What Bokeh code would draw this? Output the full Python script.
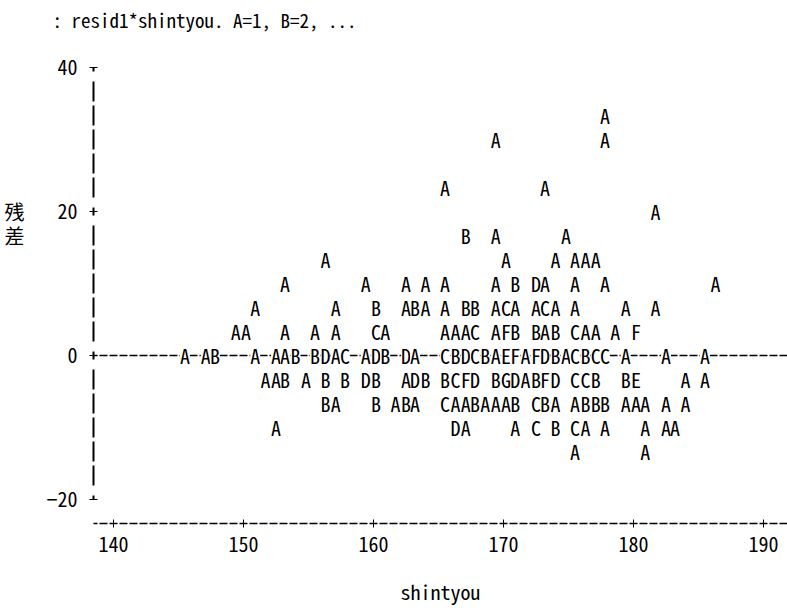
from bokeh.plotting import figure
from bokeh.models import ColumnDataSource, FixedTicker, Span, LinearAxis
from bokeh.core.properties import value
from bokeh.embed import file_html
from bokeh.resources import INLINE

# ---- data: printer-plot of resid1 * shintyou (A=1, B=2, ...) ----
x_ticks = [140, 150, 160, 170, 180, 190]
y_ticks = [-20, 0, 20, 40]

r_p10_y = 33.3
r_p10_x = [177.8]
r_p10_n = ["A"]

r_p9_y = 30.0
r_p9_x = [169.4, 177.8]
r_p9_n = ["A", "A"]

r_p7_y = 23.3
r_p7_x = [165.5, 173.2]
r_p7_n = ["A", "A"]

r_p6_y = 20.0
r_p6_x = [181.7]
r_p6_n = ["A"]

r_p5_y = 16.7
r_p5_x = [167.1, 169.4, 174.8]
r_p5_n = ["B", "A", "A"]

r_p4_y = 13.3
r_p4_x = [156.3, 170.2, 174.0, 175.5, 176.3, 177.1]
r_p4_n = list("AAAAAA")

r_p3_y = 10.0
r_p3_x = [153.2, 159.4, 162.5, 164.0, 165.5, 169.4, 170.9, 172.5, 173.2,
          175.5, 177.8, 186.3]
r_p3_n = list("AAAAAABDAAAA")

r_p2_y = 6.7
r_p2_x = [150.9, 157.1, 160.2, 162.5, 163.2, 164.0, 165.5, 167.1, 167.8,
          169.4, 170.2, 170.9, 172.5, 173.2, 174.0, 175.5, 179.4, 181.7]
r_p2_n = list("AABABAABBACAACAAAA")

r_p1_y = 3.3
r_p1_x = [149.4, 150.2, 153.2, 155.5, 157.1, 160.2, 160.9, 165.5, 166.3,
          167.1, 167.8, 169.4, 170.2, 170.9, 172.5, 173.2, 174.0, 175.5,
          176.3, 177.1, 178.6, 180.2]
r_p1_n = list("AAAAACAAAACAFBBABCAAAF")

r_0_y = 0.0
r_0_x = [145.5, 147.1, 147.8, 150.9, 152.5, 153.2, 154.0, 155.5, 156.3,
         157.1, 157.8, 159.4, 160.2, 160.9, 162.5, 163.2, 165.5, 166.3,
         167.1, 167.8, 168.6, 169.4, 170.2, 170.9, 171.7, 172.5, 173.2,
         174.0, 174.8, 175.5, 176.3, 177.1, 177.8, 179.4, 182.5, 185.5]
r_0_n = list("AABAAABBDACADBDACBDCBAEFAFDBACBCCAAA")

r_m1_y = -3.3
r_m1_x = [151.7, 152.5, 153.2, 154.8, 156.3, 157.8, 159.4, 160.2, 162.5,
          163.2, 164.0, 165.5, 166.3, 167.1, 167.8, 169.4, 170.2, 170.9,
          171.7, 172.5, 173.2, 174.0, 175.5, 176.3, 177.1, 179.4, 180.2,
          184.0, 185.5]
r_m1_n = list("AABABBDBADBBCFDBGDABFDCCBBEAA")

r_m2_y = -6.7
r_m2_x = [156.3, 157.1, 160.2, 161.7, 162.5, 163.2, 165.5, 166.3, 167.1,
          167.8, 168.6, 169.4, 170.2, 170.9, 172.5, 173.2, 174.0, 175.5,
          176.3, 177.1, 177.8, 179.4, 180.2, 180.9, 182.5, 184.0]
r_m2_n = list("BABABACAABAAABCBAABBBAAAAA")

r_m3_y = -10.0
r_m3_x = [152.5, 166.3, 167.1, 170.9, 172.5, 174.0, 175.5, 176.3, 177.8,
          180.9, 182.5, 183.2]
r_m3_n = list("ADAACBCAAAAA")

r_m4_y = -13.3
r_m4_x = [175.5, 180.9]
r_m4_n = ["A", "A"]

title_text = ": resid1*shintyou. A=1, B=2, ..."
x_label = "shintyou"
y_label_ticks = [20.0, 16.67]
y_label_chars = ["残", "差"]

# ---- build sources ----
other_rows = [
    (r_p10_y, r_p10_x, r_p10_n), (r_p9_y, r_p9_x, r_p9_n),
    (r_p7_y, r_p7_x, r_p7_n), (r_p6_y, r_p6_x, r_p6_n),
    (r_p5_y, r_p5_x, r_p5_n), (r_p4_y, r_p4_x, r_p4_n),
    (r_p3_y, r_p3_x, r_p3_n), (r_p2_y, r_p2_x, r_p2_n),
    (r_p1_y, r_p1_x, r_p1_n), (r_m1_y, r_m1_x, r_m1_n),
    (r_m2_y, r_m2_x, r_m2_n), (r_m3_y, r_m3_x, r_m3_n),
    (r_m4_y, r_m4_x, r_m4_n),
]
xs, ys, ns = [], [], []
for yv, xl, nl in other_rows:
    xs += xl
    ys += [yv] * len(xl)
    ns += nl
src = ColumnDataSource(dict(x=xs, y=ys, n=ns))
src0 = ColumnDataSource(dict(x=r_0_x, y=[r_0_y] * len(r_0_x), n=r_0_n))

MONO = "'Noto Sans Mono CJK JP', 'DejaVu Sans Mono', monospace"
CJK = "'Noto Sans CJK JP', sans-serif"

p = figure(width=787, height=608, output_backend="svg", toolbar_location=None,
           x_range=(138.4615, 191.846), y_range=(-23.333, 44.306),
           min_border_left=93, min_border_right=0, min_border_top=36,
           min_border_bottom=85, title=title_text)
p.outline_line_color = None
p.xgrid.grid_line_color = None
p.ygrid.grid_line_color = None

p.title.align = "left"
p.title.offset = -41
p.title.standoff = 7
p.title.text_font = MONO
p.title.text_font_size = "19px"
p.title.text_font_style = "normal"
p.title.text_color = "black"

zero = Span(location=0, dimension="width", line_color="black",
            line_width=1.5, line_dash="8 2", line_dash_offset=4)
zero.level = "underlay"
p.add_layout(zero)

p.text(x="x", y="y", text="n", source=src, text_font=value(MONO),
       text_font_size="20px", text_align="center", text_baseline="middle",
       text_color="black")
p.text(x="x", y="y", text="n", source=src0, text_font=value(MONO),
       text_font_size="20px", text_align="center", text_baseline="middle",
       text_color="black", background_fill_color="white")

# axes
for ax in (p.xaxis[0], p.yaxis[0]):
    ax.major_tick_in = 4
    ax.major_tick_out = 4
    ax.minor_tick_line_color = None
    ax.major_tick_line_color = "black"
    ax.major_label_text_font = MONO
    ax.major_label_text_font_size = "20px"
    ax.major_label_text_color = "black"
    ax.axis_line_color = "black"
    ax.axis_line_width = 2

p.xaxis.ticker = FixedTicker(ticks=x_ticks)
p.yaxis.ticker = FixedTicker(ticks=y_ticks)
p.yaxis.bounds = (-20, 40)
p.yaxis.axis_line_dash = "8 10 20 4 20 4 20 4 20 4 20 10"
p.yaxis.axis_line_dash_offset = 4
p.yaxis.major_label_standoff = 12
p.xaxis.axis_line_width = 1.5
p.xaxis.axis_line_dash = "8 2"
p.xaxis.axis_line_dash_offset = 4
p.xaxis.major_label_standoff = 9
p.xaxis.axis_label = x_label
p.xaxis.axis_label_text_font = MONO
p.xaxis.axis_label_text_font_size = "20px"
p.xaxis.axis_label_text_font_style = "normal"
p.xaxis.axis_label_text_color = "black"
p.xaxis.axis_label_standoff = 22

# vertical y label "残差" written character by character beside the axis
lab_axis = LinearAxis(ticker=FixedTicker(ticks=y_label_ticks),
                      major_label_overrides=dict(zip(y_label_ticks, y_label_chars)),
                      axis_line_color=None, major_tick_line_color=None,
                      minor_tick_line_color=None, major_tick_in=0,
                      major_tick_out=0, major_label_standoff=19,
                      major_label_text_font=CJK,
                      major_label_text_font_size="20px",
                      major_label_text_color="black")
p.add_layout(lab_axis, "left")

open("out.html", "w").write(file_html(p, INLINE))
